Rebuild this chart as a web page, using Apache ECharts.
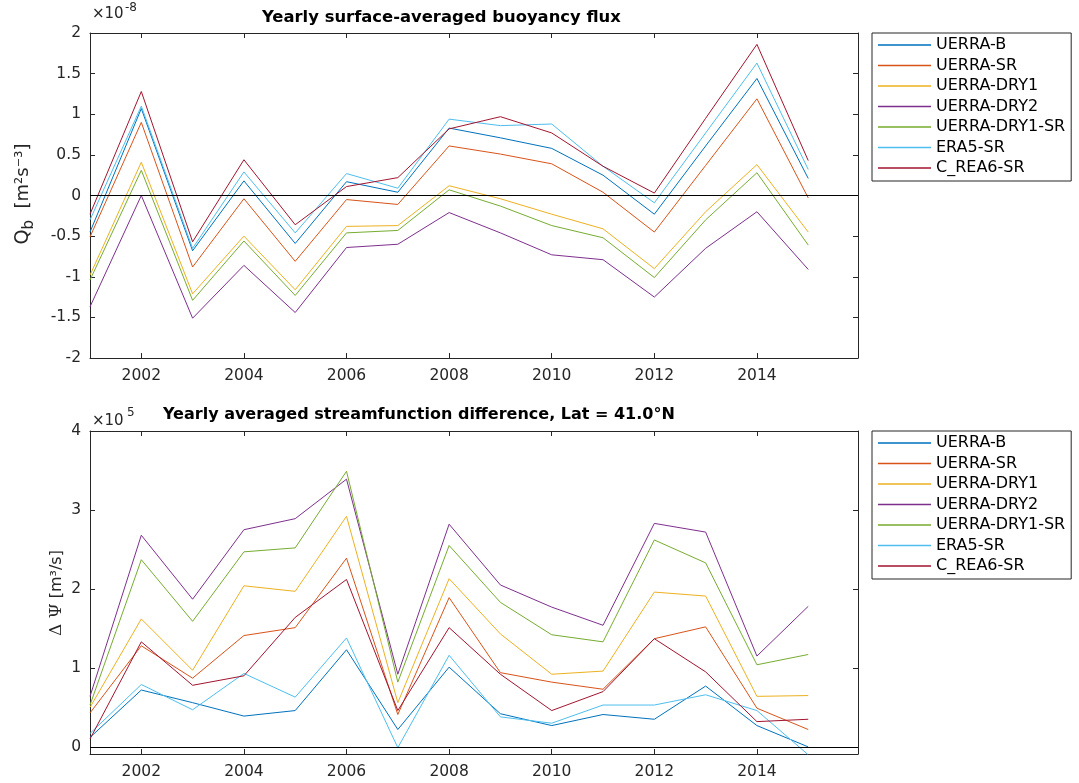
<!DOCTYPE html>
<html><head><meta charset="utf-8">
<script src="https://cdn.jsdelivr.net/npm/echarts@6/dist/echarts.min.js"></script>
<style>html,body{margin:0;padding:0;background:#fff}#c{width:1079px;height:783px}</style>
</head><body><div id="c"></div>
<script>
const years = [2001,2002,2003,2004,2005,2006,2007,2008,2009,2010,2011,2012,2013,2014,2015];
const seriesNames = ['UERRA-B','UERRA-SR','UERRA-DRY1','UERRA-DRY2','UERRA-DRY1-SR','ERA5-SR','C_REA6-SR'];
const colors = ['#0072BD','#D95319','#EDB120','#7E2F8E','#77AC30','#4DBEEE','#A2142F'];
const xTickValues = [2002,2004,2006,2008,2010,2012,2014];
const qbTickValues = [-2,-1.5,-1,-0.5,0,0.5,1,1.5,2];
const psiTickValues = [0,1,2,3,4];

// Buoyancy flux (x 1e-8 m^2 s^-3)
const qbUerraB    = [-0.45, 1.07,-0.68, 0.18,-0.59, 0.17, 0.04, 0.83, 0.71, 0.58, 0.25,-0.23, 0.61, 1.44, 0.21];
const qbUerraSR   = [-0.51, 0.90,-0.88,-0.04,-0.81,-0.05,-0.11, 0.61, 0.51, 0.39, 0.04,-0.45, 0.37, 1.19,-0.03];
const qbDry1      = [-0.98, 0.41,-1.21,-0.50,-1.16,-0.38,-0.37, 0.12,-0.04,-0.23,-0.41,-0.90,-0.20, 0.38,-0.45];
const qbDry2      = [-1.37, 0.00,-1.51,-0.86,-1.44,-0.64,-0.60,-0.21,-0.46,-0.73,-0.79,-1.25,-0.65,-0.20,-0.91];
const qbDry1SR    = [-1.04, 0.31,-1.29,-0.56,-1.23,-0.46,-0.43, 0.07,-0.13,-0.37,-0.52,-1.01,-0.30, 0.28,-0.61];
const qbEra5SR    = [-0.30, 1.10,-0.65, 0.29,-0.46, 0.27, 0.09, 0.94, 0.86, 0.88, 0.36,-0.09, 0.77, 1.63, 0.32];
const qbCrea6SR   = [-0.23, 1.28,-0.57, 0.44,-0.36, 0.11, 0.22, 0.82, 0.97, 0.77, 0.36, 0.03, 0.95, 1.86, 0.43];

// Streamfunction difference (x 1e5 m^3/s)
const psiUerraB   = [0.12, 0.72, 0.56, 0.39, 0.46, 1.23, 0.22, 1.01, 0.42, 0.27, 0.41, 0.35, 0.77, 0.27, 0.00];
const psiUerraSR  = [0.43, 1.28, 0.87, 1.41, 1.51, 2.39, 0.41, 1.89, 0.94, 0.82, 0.73, 1.37, 1.52, 0.49, 0.22];
const psiDry1     = [0.50, 1.62, 0.97, 2.04, 1.97, 2.92, 0.56, 2.13, 1.43, 0.92, 0.96, 1.96, 1.91, 0.64, 0.65];
const psiDry2     = [0.64, 2.68, 1.87, 2.75, 2.89, 3.39, 0.92, 2.82, 2.05, 1.77, 1.54, 2.83, 2.72, 1.15, 1.78];
const psiDry1SR   = [0.53, 2.37, 1.59, 2.47, 2.52, 3.49, 0.82, 2.55, 1.83, 1.42, 1.33, 2.62, 2.33, 1.04, 1.17];
const psiEra5SR   = [0.17, 0.79, 0.47, 0.93, 0.63, 1.38,-0.01, 1.16, 0.38, 0.30, 0.53, 0.53, 0.66, 0.46,-0.10];
const psiCrea6SR  = [0.10, 1.33, 0.78, 0.90, 1.64, 2.12, 0.46, 1.51, 0.92, 0.46, 0.70, 1.37, 0.95, 0.32, 0.35];

const qbData  = [qbUerraB, qbUerraSR, qbDry1, qbDry2, qbDry1SR, qbEra5SR, qbCrea6SR];
const psiData = [psiUerraB, psiUerraSR, psiDry1, psiDry2, psiDry1SR, psiEra5SR, psiCrea6SR];

const FONT = 'DejaVu Sans';
const AX = '#262626';
const LEG_ICON = 'path://M0,0 L0.001,0 L0.001,0.001 Z M0,6.35 L53,6.35 L53,7.65 L0,7.65 Z M53,14 L52.999,14 L53,13.999 Z';

function xAx(gridIndex, pos) {
  return {
    type: 'value', gridIndex, position: pos, min: 2001, max: 2015.97,
    axisLine: { show: true, onZero: false, lineStyle: { color: AX, width: 1 } },
    axisTick: { show: true, inside: true, length: 5, customValues: xTickValues, lineStyle: { color: AX } },
    axisLabel: { show: pos === 'bottom', customValues: xTickValues, color: AX, fontSize: 15.5, fontFamily: FONT, margin: 10, formatter: v => String(v) },
    splitLine: { show: false }
  };
}
function yAx(gridIndex, pos, min, max, ticks) {
  return {
    type: 'value', gridIndex, position: pos, min, max,
    axisLine: { show: true, onZero: false, lineStyle: { color: AX, width: 1 } },
    axisTick: { show: true, inside: true, length: 5, customValues: ticks, lineStyle: { color: AX } },
    axisLabel: { show: pos === 'left', customValues: ticks, color: AX, fontSize: 15.5, fontFamily: FONT, margin: 9, formatter: v => String(v) },
    splitLine: { show: false }
  };
}

const zeroLine = {
  silent: true, symbol: ['none','none'], label: { show: false },
  lineStyle: { color: '#000', width: 1, type: 'solid' },
  data: [{ yAxis: 0 }]
};

const series = [];
seriesNames.forEach((name, i) => {
  series.push({
    name, type: 'line', xAxisIndex: 0, yAxisIndex: 0, symbol: 'none', clip: true,
    lineStyle: { color: colors[i], width: 1 }, itemStyle: { color: colors[i] },
    data: years.map((y, k) => [y, qbData[i][k]]),
    markLine: i === 0 ? zeroLine : undefined, z: 3
  });
});
seriesNames.forEach((name, i) => {
  series.push({
    name, type: 'line', xAxisIndex: 2, yAxisIndex: 2, symbol: 'none', clip: true,
    lineStyle: { color: colors[i], width: 1 }, itemStyle: { color: colors[i] },
    data: years.map((y, k) => [y, psiData[i][k]]),
    markLine: i === 0 ? zeroLine : undefined, z: 3
  });
});

function legendAt(top) {
  return {
    orient: 'vertical', left: 872, top,
    data: seriesNames.map(n => ({ name: n, icon: LEG_ICON })),
    itemWidth: 53, itemHeight: 14, itemGap: 4.5,
    padding: [4, 6, 5, 6],
    borderColor: AX, borderWidth: 1, backgroundColor: '#fff',
    textStyle: { fontFamily: FONT, fontSize: 16, color: '#000' },
    selectedMode: false
  };
}

const option = {
  animation: false,
  backgroundColor: '#fff',
  textStyle: { fontFamily: FONT },
  grid: [
    { left: 90, top: 33, width: 768, height: 325 },
    { left: 90, top: 431, width: 768, height: 323 }
  ],
  xAxis: [xAx(0, 'bottom'), xAx(0, 'top'), xAx(1, 'bottom'), xAx(1, 'top')],
  yAxis: [
    yAx(0, 'left', -2, 2, qbTickValues), yAx(0, 'right', -2, 2, qbTickValues),
    yAx(1, 'left', -0.09, 4, psiTickValues), yAx(1, 'right', -0.09, 4, psiTickValues)
  ],
  legend: [legendAt(33), legendAt(431)],
  series,
  graphic: [
    { type: 'text', x: 262, y: 18, style: { text: 'Yearly surface-averaged buoyancy flux', font: 'bold 16.4px "DejaVu Sans"', fill: '#000', align: 'left', verticalAlign: 'middle' } },
    { type: 'text', x: 163, y: 415, style: { text: 'Yearly averaged streamfunction difference, Lat = 41.0°N', font: 'bold 16px "DejaVu Sans"', fill: '#000', align: 'left', verticalAlign: 'middle' } },
    { type: 'text', x: 92, y: 14, style: { text: '×10', font: '15px "DejaVu Sans"', fill: AX, align: 'left', verticalAlign: 'middle' } },
    { type: 'text', x: 125, y: 8, style: { text: '-8', font: '12px "DejaVu Sans"', fill: AX, align: 'left', verticalAlign: 'middle' } },
    { type: 'text', x: 92, y: 421, style: { text: '×10', font: '15px "DejaVu Sans"', fill: AX, align: 'left', verticalAlign: 'middle' } },
    { type: 'text', x: 127, y: 413, style: { text: '5', font: '12px "DejaVu Sans"', fill: AX, align: 'left', verticalAlign: 'middle' } },
    { type: 'text', x: 23, y: 194, rotation: Math.PI / 2, style: {
        text: '{q|Q}{s|b}{n|  [m²s⁻³]}', align: 'center', verticalAlign: 'middle', fill: AX,
        rich: { q: { fontSize: 19, fontFamily: FONT, fill: AX }, s: { fontSize: 15, fontFamily: FONT, padding: [12, 0, 0, 0], fill: AX }, n: { fontSize: 18, fontFamily: FONT, fill: AX } } } },
    { type: 'text', x: 57, y: 593, rotation: Math.PI / 2, style: {
        text: '{g|Δ Ψ}{n| [m³/s]}', align: 'center', verticalAlign: 'middle', fill: AX,
        rich: { g: { fontSize: 17, fontFamily: 'DejaVu Serif', fill: AX }, n: { fontSize: 16, fontFamily: FONT, fill: AX } } } }
  ]
};

const chart = echarts.init(document.getElementById('c'), null, { renderer: 'canvas' });
chart.setOption(option);
</script>
</body></html>
